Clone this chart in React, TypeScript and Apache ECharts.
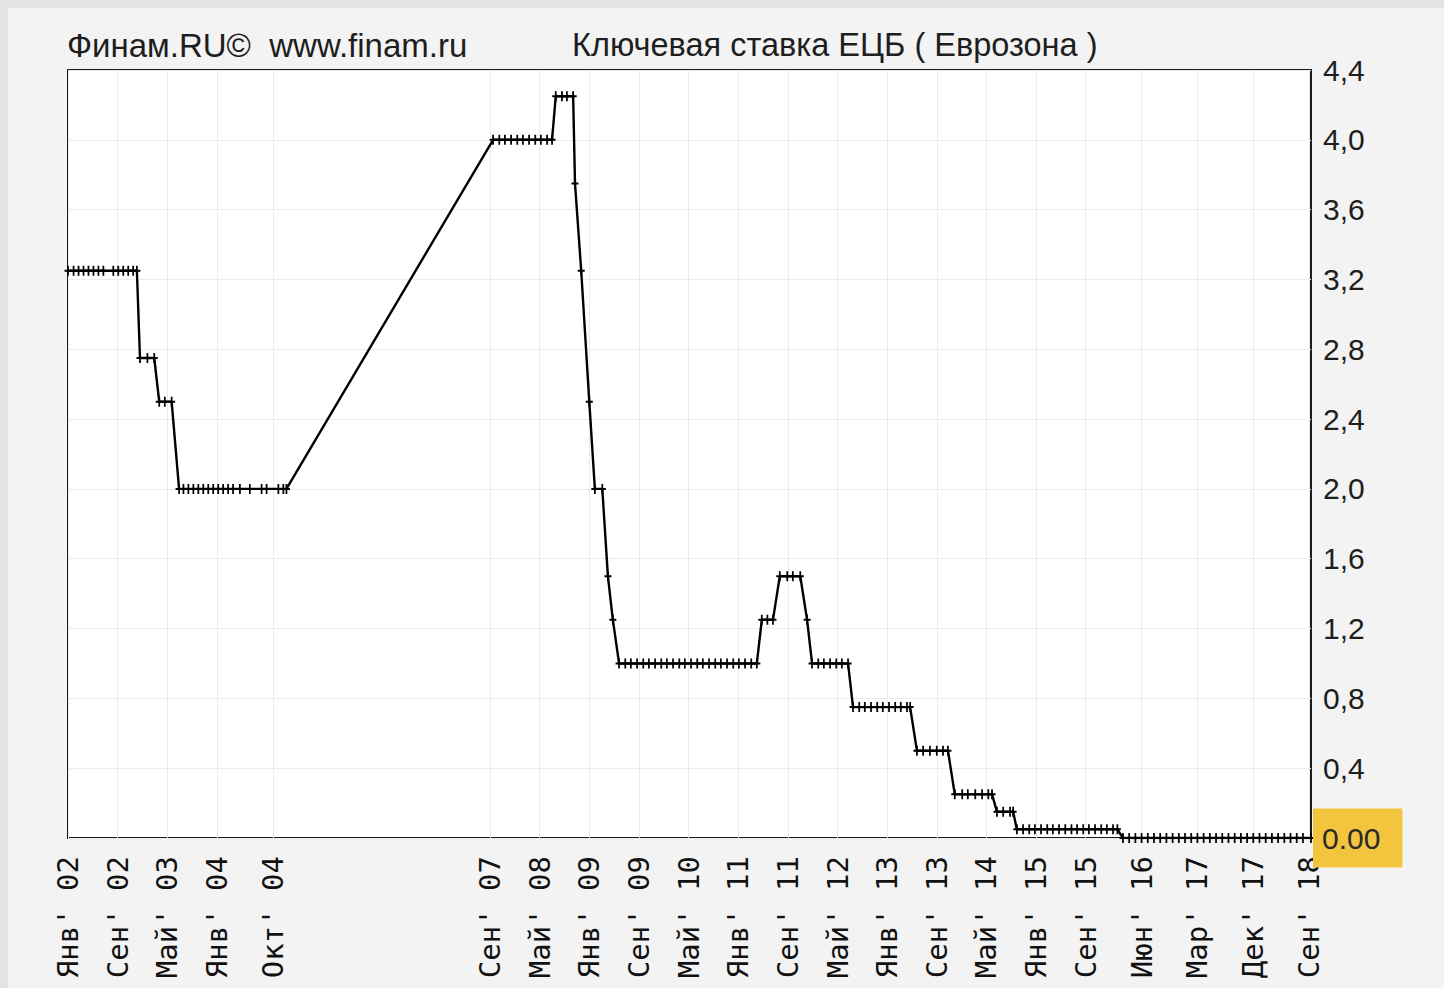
import React, { useEffect, useRef } from "react";
import * as echarts from "echarts";

// Title texts
const titleLeft = "Финам.RU©  www.finam.ru";
const titleMain = "Ключевая ставка ЕЦБ ( Еврозона )";

// X-axis: months since January 2002
const tickMonths = [0, 8, 16, 24, 33, 68, 76, 84, 92, 100, 108, 116, 124, 132, 140, 148, 156, 164, 173, 182, 191, 200];
const tickLabels = [
  "Янв' 02", "Сен' 02", "Май' 03", "Янв' 04", "Окт' 04", "Сен' 07", "Май' 08", "Янв' 09",
  "Сен' 09", "Май' 10", "Янв' 11", "Сен' 11", "Май' 12", "Янв' 13", "Сен' 13", "Май' 14",
  "Янв' 15", "Сен' 15", "Июн' 16", "Мар' 17", "Дек' 17", "Сен' 18",
];

// Y-axis ticks
const yMin = 0;
const yMax = 4.4;
const yStep = 0.4;
const lastValueLabel = "0.00";
const lastValue = 0;

// ECB key rate observations (month offset since Jan 2002, rate %)
const rateMonths = [
  0, 0.9, 1.7, 2.5, 3.3, 4.1, 4.9, 5.7, 7.3, 8.1, 8.9, 9.7, 10.5, 11.1,
  11.6, 12.8, 13.9,
  14.7, 15.6, 16.7,
  17.9, 18.6, 19.4, 20.2, 21.0, 21.8, 22.6, 23.4, 24.2, 25.0, 25.8, 26.6, 27.7, 29.3, 31.2, 32.0, 33.9, 34.7, 35.2,
  68.5, 69.5, 70.4, 71.4, 72.4, 73.3, 74.3, 75.3, 76.2, 77.2, 78.0,
  78.6, 79.6, 80.4, 81.4,
  81.7,
  82.7,
  84.0,
  84.9, 86.1,
  87.0,
  87.8,
  88.8, 89.8, 90.7, 91.7, 92.7, 93.6, 94.6, 95.6, 96.5, 97.5, 98.5, 99.4, 100.4, 101.4, 102.3, 103.3, 104.3, 105.2, 106.2, 107.2, 108.1, 109.1, 110.1, 111.0,
  111.8, 112.7, 113.6,
  114.7, 115.9, 116.8, 118.0,
  119.1,
  119.9, 120.9, 121.8, 122.8, 123.8, 124.7, 125.7,
  126.5, 127.5, 128.4, 129.4, 130.4, 131.3, 132.3, 133.3, 134.2, 135.2, 135.7,
  136.8, 137.8, 138.9, 140.0, 141.0, 141.8,
  142.9, 144.1, 145.0, 146.2, 147.3, 148.3, 148.9,
  149.7, 150.7, 151.8, 152.3,
  152.9, 153.9, 154.9, 155.8, 156.8, 157.8, 158.7, 159.7, 160.7, 161.7, 162.6, 163.6, 164.5, 165.5, 166.5, 167.4, 168.4, 169.1,
  170.0, 171.0, 172.0, 173.0, 174.0, 175.0, 176.0, 177.0, 178.0, 179.0, 180.0, 181.0, 182.0, 183.0, 184.0, 185.0,
  186.0, 187.0, 188.0, 189.0, 190.0, 191.0, 192.0, 193.0, 194.0, 195.0, 196.0, 197.0, 198.0, 199.0, 200.3,
];
const rateValues = [
  3.25, 3.25, 3.25, 3.25, 3.25, 3.25, 3.25, 3.25, 3.25, 3.25, 3.25, 3.25, 3.25, 3.25,
  2.75, 2.75, 2.75,
  2.5, 2.5, 2.5,
  2.0, 2.0, 2.0, 2.0, 2.0, 2.0, 2.0, 2.0, 2.0, 2.0, 2.0, 2.0, 2.0, 2.0, 2.0, 2.0, 2.0, 2.0, 2.0,
  4.0, 4.0, 4.0, 4.0, 4.0, 4.0, 4.0, 4.0, 4.0, 4.0, 4.0,
  4.25, 4.25, 4.25, 4.25,
  3.75,
  3.25,
  2.5,
  2.0, 2.0,
  1.5,
  1.25,
  1.0, 1.0, 1.0, 1.0, 1.0, 1.0, 1.0, 1.0, 1.0, 1.0, 1.0, 1.0, 1.0, 1.0, 1.0, 1.0, 1.0, 1.0, 1.0, 1.0, 1.0, 1.0, 1.0, 1.0,
  1.25, 1.25, 1.25,
  1.5, 1.5, 1.5, 1.5,
  1.25,
  1.0, 1.0, 1.0, 1.0, 1.0, 1.0, 1.0,
  0.75, 0.75, 0.75, 0.75, 0.75, 0.75, 0.75, 0.75, 0.75, 0.75, 0.75,
  0.5, 0.5, 0.5, 0.5, 0.5, 0.5,
  0.25, 0.25, 0.25, 0.25, 0.25, 0.25, 0.25,
  0.15, 0.15, 0.15, 0.15,
  0.05, 0.05, 0.05, 0.05, 0.05, 0.05, 0.05, 0.05, 0.05, 0.05, 0.05, 0.05, 0.05, 0.05, 0.05, 0.05, 0.05, 0.05,
  0, 0, 0, 0, 0, 0, 0, 0, 0, 0, 0, 0, 0, 0, 0, 0,
  0, 0, 0, 0, 0, 0, 0, 0, 0, 0, 0, 0, 0, 0, 0,
];

const PLUS = "path://M3,0H5V4H8V6H5V10H3V6H0V4H3Z";
const SANS = "'Liberation Sans', Arial, sans-serif";

export default function App() {
  const ref = useRef<HTMLDivElement>(null);

  useEffect(() => {
    document.body.style.margin = "0";
    document.body.style.background = "#e4e4e4";
    document.body.style.overflow = "hidden";
    if (!ref.current) return;
    const chart = echarts.init(ref.current, undefined, { renderer: "svg" });

    const data = rateMonths.map((m, i) => [m, rateValues[i]]);
    const labelFor = (v: number) => {
      for (let i = 0; i < tickMonths.length; i++) {
        if (Math.abs(tickMonths[i] - v) < 0.01) return tickLabels[i];
      }
      return "";
    };

    chart.setOption({
      animation: false,
      backgroundColor: "#f3f3f3",
      graphic: [
        {
          type: "text",
          x: 59,
          y: 37,
          style: {
            text: titleLeft,
            font: `33px ${SANS}`,
            fill: "#1e1e1e",
            verticalAlign: "middle",
          },
        },
        {
          type: "text",
          x: 564,
          y: 37,
          style: {
            text: titleMain,
            font: `32.5px ${SANS}`,
            fill: "#1e1e1e",
            verticalAlign: "middle",
          },
        },
      ],
      grid: {
        left: 60,
        top: 62,
        right: 133,
        bottom: 150,
        show: true,
        backgroundColor: "#ffffff",
        borderColor: "#1a1a1a",
        borderWidth: 2,
      },
      xAxis: {
        type: "value",
        min: 0,
        max: 200.3,
        axisLine: { show: false },
        axisTick: { show: false, customValues: tickMonths },
        splitLine: { show: true, lineStyle: { color: "#ececec", width: 1 } },
        axisLabel: {
          customValues: tickMonths,
          rotate: 90,
          margin: 18,
          fontFamily: "'DejaVu Sans Mono', monospace",
          fontSize: 29,
          color: "#111111",
          formatter: (v: number) => labelFor(v),
        },
      },
      yAxis: {
        type: "value",
        position: "right",
        min: yMin,
        max: yMax,
        interval: yStep,
        axisLine: { show: false },
        axisTick: { show: false },
        splitLine: { show: true, lineStyle: { color: "#ececec", width: 1 } },
        axisLabel: {
          margin: 12,
          fontFamily: SANS,
          fontSize: 30,
          color: "#1e1e1e",
          formatter: (v: number) => (Math.abs(v) < 1e-9 ? "" : v.toFixed(1).replace(".", ",")),
        },
      },
      series: [
        {
          type: "line",
          data,
          z: 3,
          symbol: PLUS,
          symbolSize: [7, 10],
          showAllSymbol: true,
          lineStyle: { color: "#000000", width: 2.4 },
          itemStyle: { color: "#000000" },
        },
        {
          type: "line",
          data: [[200.3, lastValue]],
          clip: false,
          z: 4,
          symbol: "none",
          silent: true,
          lineStyle: { width: 0 },
          markLine: {
            silent: true,
            symbol: ["none", "none"],
            lineStyle: { color: "rgba(0,0,0,0)", width: 0 },
            data: [{ yAxis: lastValue }],
            label: {
              show: true,
              position: "end",
              distance: 2,
              formatter: lastValueLabel,
              backgroundColor: "#f3c53f",
              padding: [15, 22, 14, 9],
              fontFamily: SANS,
              fontSize: 30,
              color: "#2a2a2a",
            },
          },
        },
      ],
    });

    return () => chart.dispose();
  }, []);

  return (
    <div style={{ width: 1444, height: 988, background: "#e4e4e4", position: "relative", overflow: "hidden" }}>
      <div ref={ref} style={{ position: "absolute", left: 8, top: 8, width: 1436, height: 980 }} />
    </div>
  );
}
